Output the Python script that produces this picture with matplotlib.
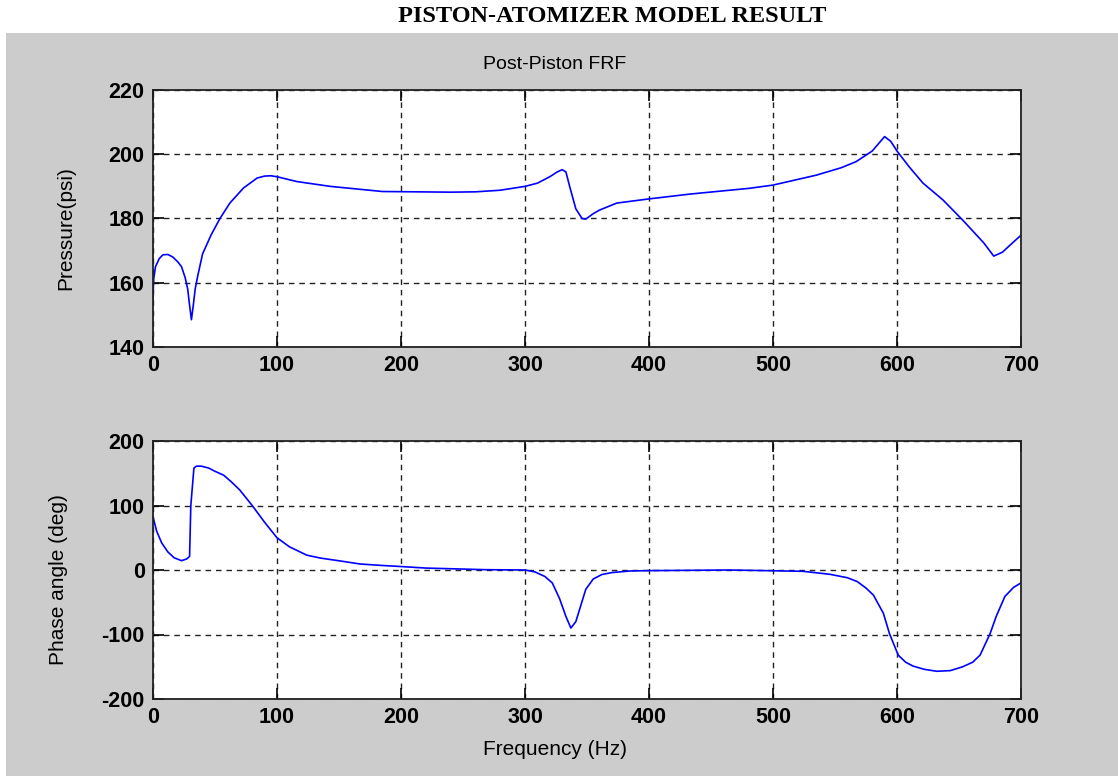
import matplotlib
matplotlib.use("Agg")
import matplotlib.pyplot as plt
from matplotlib.patches import Rectangle

plt.rcParams["axes.unicode_minus"] = False

# ---------------- data ----------------
mag_freq = [0, 0.5, 2, 5, 8, 12, 16, 20, 23, 26, 28, 29.5, 31, 32.5, 34, 36, 40, 47, 54, 62,
            73, 84, 90, 95, 100, 116, 143, 185, 240, 260, 280, 300, 310, 320, 326, 330, 333,
            336, 341, 346, 349, 355, 360, 374, 400, 433, 481, 500, 535, 555, 567, 580, 590,
            595, 600, 610, 621, 637, 653, 670, 678, 685, 692, 700]
mag_psi = [155, 161, 165, 167.5, 168.7, 168.8, 168, 166.5, 165, 161.5, 158, 153, 148.5, 153,
           158, 162, 169, 175, 180, 184.8, 189.5, 192.6, 193.2, 193.3, 193, 191.5, 190, 188.4,
           188.2, 188.3, 188.8, 190, 191, 193, 194.5, 195.2, 194.5, 190, 183, 180, 179.8,
           181.5, 182.6, 184.8, 186.1, 187.6, 189.4, 190.4, 193.5, 195.8, 197.7, 201, 205.5,
           204, 201, 196, 191, 185.8, 179.5, 172.4, 168.3, 169.5, 172, 174.8]

ph_freq = [0, 3, 7, 12, 17, 23, 27, 29.5, 30.5, 33, 35, 39, 45, 50, 57, 63, 70, 80, 90, 100,
           110, 124, 135, 151, 167, 185, 199, 220, 268, 300, 308, 316, 322, 328, 333, 337, 341,
           345, 349, 355, 362, 370, 385, 400, 465, 524, 546, 560, 568, 575, 581, 589, 594, 601,
           607, 613, 622, 632, 643, 653, 661, 667, 675, 680, 687, 694, 700]
ph_deg = [82, 60, 42, 28, 19, 14.5, 17, 21, 100, 158, 161, 161, 158, 153, 147, 137, 124, 100,
          74, 50, 36, 23, 18.5, 14, 9.3, 7, 5.5, 3, 0.5, 0, -3, -10, -20, -45, -72, -90, -80,
          -55, -30, -14, -7, -4, -1.5, -1, 0, -2, -6.7, -12, -18, -28, -39, -67, -99, -132,
          -143, -149, -154, -157, -156, -150, -143, -132, -99, -72, -41, -27, -20]

x_ticks = [0, 100, 200, 300, 400, 500, 600, 700]
mag_ticks = [140, 160, 180, 200, 220]
ph_ticks = [-200, -100, 0, 100, 200]

main_title = "PISTON-ATOMIZER MODEL RESULT"
sub_title = "Post-Piston FRF"
mag_label = "Pressure(psi)"
ph_label = "Phase angle (deg)"
freq_label = "Frequency (Hz)"

# ---------------- figure ----------------
W, H = 1118, 776
fig = plt.figure(figsize=(W / 100, H / 100), dpi=100, facecolor="white")

# gray MATLAB-like figure panel
fig.patches.append(Rectangle((6 / W, 0), 1 - 6 / W, (H - 33) / H, transform=fig.transFigure,
                             facecolor="#cccccc", edgecolor="none", zorder=-10))

fig.text(612 / W, 1 - 16 / H, main_title, ha="center", va="center",
         family="Liberation Serif", weight="bold", fontsize=17.5)

def px_axes(left, top, right, bottom):
    return fig.add_axes([left / W, 1 - bottom / H, (right - left) / W, (bottom - top) / H])

ax1 = px_axes(153, 90, 1021, 347)
ax2 = px_axes(153, 441, 1021, 699)

tick_family = "Liberation Sans"
tick_size = 15.5
label_font = dict(family="Liberation Sans", size=15)

def style_ticks(ax):
    for lab in ax.get_xticklabels() + ax.get_yticklabels():
        lab.set_fontfamily(tick_family)
        lab.set_fontweight("bold")
        lab.set_fontsize(tick_size)

for ax in (ax1, ax2):
    ax.set_facecolor("white")
    ax.set_xlim(0, 700)
    ax.set_xticks(x_ticks)
    ax.grid(True, color="#222222", linestyle=(0, (4, 3.5)), linewidth=1.0)
    ax.tick_params(direction="in", length=8, width=1.2, top=True, right=True,
                   colors="black", pad=6)
    for s in ax.spines.values():
        s.set_linewidth(1.3)
        s.set_color("#222222")

ax1.plot(mag_freq, mag_psi, color="#0000ff", linewidth=1.2)
ax1.set_ylim(140, 220)
ax1.set_yticks(mag_ticks)
ax1.set_ylabel(mag_label, **label_font)
ax1.yaxis.set_label_coords(-0.09, 0.463)
ax1.set_title(sub_title, family="Liberation Sans", size=14, pad=15)
ax1.title.set_position((0.463, 1.0))

ax2.plot(ph_freq, ph_deg, color="#0000ff", linewidth=1.2)
ax2.set_ylim(-200, 200)
ax2.set_yticks(ph_ticks)
ax2.set_ylabel(ph_label, **label_font)
ax2.yaxis.set_label_coords(-0.098, 0.463)
ax2.set_xlabel(freq_label, **label_font)
ax2.xaxis.set_label_coords(0.463, -0.158)

style_ticks(ax1)
style_ticks(ax2)

fig.savefig("out.png", dpi=100, facecolor="white")
